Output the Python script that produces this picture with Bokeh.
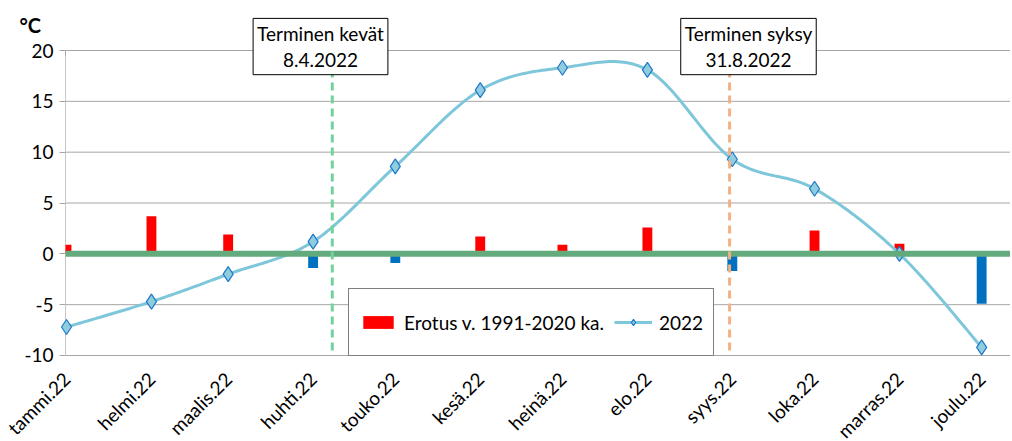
import datetime as dt
import numpy as np
from bokeh.plotting import figure
from bokeh.models import (Range1d, FixedTicker, Label, Legend, LegendItem,
                          ColumnDataSource)
from bokeh.embed import file_html
from bokeh.resources import INLINE

# ---- data ----
months = ["tammi.22", "helmi.22", "maalis.22", "huhti.22", "touko.22", "kesä.22",
          "heinä.22", "elo.22", "syys.22", "loka.22", "marras.22", "joulu.22"]
month_dates = ["2022-01-01", "2022-02-01", "2022-03-01", "2022-04-01", "2022-05-01",
               "2022-06-01", "2022-07-01", "2022-08-01", "2022-09-01", "2022-10-01",
               "2022-11-01", "2022-12-01"]
diff_vals = [0.9, 3.7, 1.9, -1.4, -0.9, 1.7, 0.9, 2.6, -1.7, 2.3, 1.0, -4.9]
temp_2022 = [-7.2, -4.7, -2.0, 1.2, 8.6, 16.1, 18.3, 18.1, 9.3, 6.4, 0.0, -9.2]
event_dates = ["2022-04-08", "2022-08-31"]
event_texts = ["Terminen kevät\n8.4.2022", "Terminen syksy\n31.8.2022"]
y_ticks = [-10, -5, 0, 5, 10, 15, 20]
y_min, y_max = -10, 20

FONT = "Lato"
base = dt.date(2022, 1, 1)
def dayno(s):
    return (dt.date.fromisoformat(s) - base).days

xs = np.array([dayno(d) for d in month_dates], dtype=float)
ys = np.array(temp_2022, dtype=float)
dv = np.array(diff_vals, dtype=float)
ev = [dayno(d) for d in event_dates]

# Excel-like smoothed curve (cubic Bezier through the points)
def smooth(px, py, n=30):
    P = np.column_stack([px, py])
    m = len(P)
    out = []
    for i in range(m - 1):
        p0 = P[max(i - 1, 0)]
        p1 = P[i]
        p2 = P[i + 1]
        p3 = P[min(i + 2, m - 1)]
        c1 = p1 + (p2 - p0) / 6.0
        c2 = p2 - (p3 - p1) / 6.0
        t = np.linspace(0, 1, n)[:, None]
        seg = ((1 - t) ** 3) * p1 + 3 * ((1 - t) ** 2) * t * c1 + 3 * (1 - t) * t * t * c2 + t ** 3 * p2
        out.append(seg if i == 0 else seg[1:])
    s = np.vstack(out)
    return s[:, 0], s[:, 1]

cx, cy = smooth(xs, ys)

PX_PER_DAY = 2.74
PX_PER_DEG = 10.166
x_start = -66 / PX_PER_DAY
x_end = x_start + 1010 / PX_PER_DAY
x_axis_pos = -1 / PX_PER_DAY
y_start = y_min - 12 / PX_PER_DEG
y_end = y_max + 50 / PX_PER_DEG

p = figure(frame_width=1010, frame_height=367, output_backend="svg", toolbar_location=None,
           x_range=Range1d(x_start, x_end), y_range=Range1d(y_start, y_end),
           min_border_left=0, min_border_top=0, min_border_bottom=0,
           min_border_right=0, background_fill_color="white",
           border_fill_color="white", outline_line_color=None)

# grid (drawn from the axis to the right edge)
p.xgrid.visible = False
p.ygrid.visible = False
p.segment(x0=[x_axis_pos] * len(y_ticks), y0=y_ticks,
          x1=[x_end] * len(y_ticks), y1=y_ticks,
          line_color="#A6A6A6", line_width=1)

# y axis fixed at the left edge of the data area
p.yaxis.fixed_location = x_axis_pos
p.yaxis.ticker = FixedTicker(ticks=y_ticks)
p.yaxis.major_label_overrides = {-10: "-10", -5: "-5"}
p.yaxis.axis_line_color = None
p.yaxis.major_tick_line_color = "#A6A6A6"
p.yaxis.major_tick_out = 6
p.yaxis.major_tick_in = 0
p.yaxis.minor_tick_line_color = None
p.yaxis.major_label_text_font = FONT
p.yaxis.major_label_text_font_size = "19px"
p.yaxis.major_label_text_color = "#000000"
p.yaxis.major_label_standoff = 6

p.xaxis.ticker = FixedTicker(ticks=list(xs))
p.xaxis.major_label_overrides = {float(x): m for x, m in zip(xs, months)}
p.xaxis.major_label_orientation = np.pi / 4
p.xaxis.axis_line_color = None
p.xaxis.major_tick_line_color = None
p.xaxis.minor_tick_line_color = None
p.xaxis.major_label_text_font = FONT
p.xaxis.major_label_text_font_size = "19px"
p.xaxis.major_label_text_color = "#000000"
p.xaxis.major_label_standoff = 2

# left axis line (only between -10 and 20)
p.segment(x0=[x_axis_pos], y0=[y_min], x1=[x_axis_pos], y1=[y_max],
          line_color="#A6A6A6", line_width=1)

# bars
bw = 3.6
pos = dv >= 0
src_pos = ColumnDataSource(dict(x=xs[pos], top=dv[pos]))
src_neg = ColumnDataSource(dict(x=xs[~pos], top=dv[~pos]))
r_bar = p.vbar(x="x", top="top", bottom=0, width=bw, source=src_pos,
               fill_color="#FF0000", line_color=None)
p.vbar(x="x", top="top", bottom=0, width=bw, source=src_neg,
       fill_color="#0070C0", line_color=None)
# white mask left of the axis so bar halves are hidden like in the original
p.quad(left=[x_start], right=[x_axis_pos - 0.05], bottom=[y_min - 0.5], top=[y_max - 0.5],
       fill_color="white", line_color=None)

# smoothed line + markers
r_line = p.line(cx, cy, line_color="#7EC6DA", line_width=3)
r_mark = p.scatter(xs, ys, marker="diamond", size=15, fill_color="#8FCCDE",
                   line_color="#1F78C8", line_width=1.2)

# zero line (from axis to right edge)
p.segment(x0=[x_axis_pos], y0=[0], x1=[x_end], y1=[0],
          line_color="#63AA7D", line_width=6)

# event dashed lines
ev_colors = ["#72D29B", "#F4B183"]
for x, c in zip(ev, ev_colors):
    p.segment(x0=[x], y0=[-9.5], x1=[x], y1=[17.8], line_color=c,
              line_width=3, line_dash="8 5")

# event boxes
box_x = [92.7, 248.9]
for bx, t in zip(box_x, event_texts):
    p.add_layout(Label(x=bx, y=20.39, text=t, text_align="center",
                       text_baseline="middle", text_font=FONT,
                       text_font_size="19px", text_color="#000000",
                       background_fill_color="white", border_line_color="#000000",
                       border_line_width=1, padding=4, text_line_height=1.1))

# unit label
p.add_layout(Label(x=-13.2, y=22.46, text="°C", text_align="center",
                   text_baseline="middle", text_font=FONT, text_font_size="20px",
                   text_font_style="bold", text_color="#000000"))

legend = Legend(items=[LegendItem(label="Erotus v. 1991-2020 ka.", renderers=[r_bar]),
                       LegendItem(label="2022", renderers=[r_line, r_mark])],
                orientation="horizontal", location=(348, 11),
                border_line_color="#000000", border_line_width=1,
                background_fill_color="white", background_fill_alpha=1,
                label_text_font=FONT, label_text_font_size="19px",
                label_text_color="#000000", glyph_width=38, glyph_height=16,
                label_height=46, padding=10, spacing=10, label_standoff=7,
                margin=0)
p.add_layout(legend, "center")

open("out.html", "w").write(file_html(p, INLINE))
